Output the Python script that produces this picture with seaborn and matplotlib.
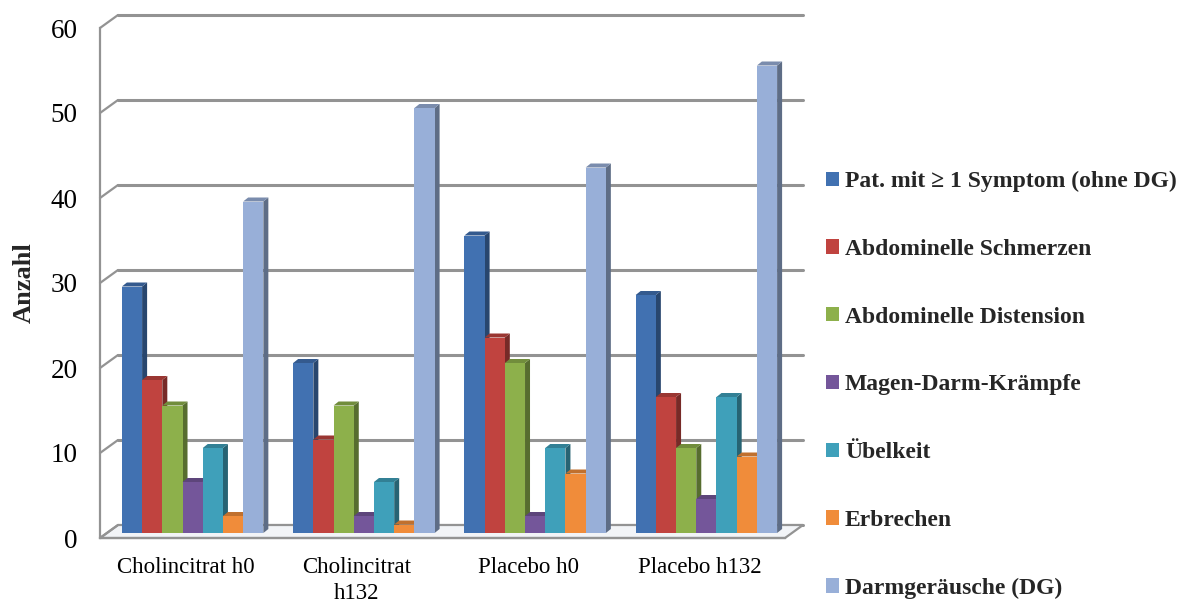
import matplotlib
matplotlib.use("Agg")
import matplotlib.pyplot as plt
from matplotlib.patches import Polygon
from matplotlib.colors import to_rgb
import seaborn as sns
import pandas as pd
import numpy as np

# ---- data -------------------------------------------------------------
groups = ["Cholincitrat h0", "Cholincitrat\nh132", "Placebo h0", "Placebo h132"]
symptoms = [
    "Pat. mit \u2265 1 Symptom (ohne DG)",
    "Abdominelle Schmerzen",
    "Abdominelle Distension",
    "Magen-Darm-Krämpfe",
    "Übelkeit",
    "Erbrechen",
    "Darmgeräusche (DG)",
]
pat_symptom = [29, 20, 35, 28]
schmerzen = [18, 11, 23, 16]
distension = [15, 15, 20, 10]
kraempfe = [6, 2, 2, 4]
uebelkeit = [10, 6, 10, 16]
erbrechen = [2, 1, 7, 9]
darmgeraeusche = [39, 50, 43, 55]
y_ticks = [0, 10, 20, 30, 40, 50, 60]

colors = ["#4171B1", "#C0433F", "#8DB04B", "#74569A", "#3FA0BA", "#F08C3A", "#98AFD8"]

series = [pat_symptom, schmerzen, distension, kraempfe, uebelkeit, erbrechen, darmgeraeusche]
df = pd.DataFrame(
    [(g, s, v) for s, vals in zip(symptoms, series) for g, v in zip(groups, vals)],
    columns=["Gruppe", "Symptom", "Anzahl"],
)

# ---- style ------------------------------------------------------------
sns.set_theme(style="white")
plt.rcParams["font.family"] = ["Liberation Serif", "DejaVu Serif"]
plt.rcParams["axes.unicode_minus"] = False

W, H = 1184, 603
fig = plt.figure(figsize=(W / 100, H / 100), dpi=100)
fig.patch.set_facecolor("white")


def rect(x0, y0, x1, y1):
    """Axes rectangle from pixel corners (y measured from the top)."""
    return [x0 / W, 1 - y1 / H, (x1 - x0) / W, (y1 - y0) / H]


GRAY = "#939393"
front = (100, 28, 785, 538)       # front plane: axis line, ticks, labels
wall = (18, 13)                   # depth offset of the back wall (px)
plane = (7, 5)                    # depth offset of the bar plane (px)

axb = fig.add_axes(rect(front[0] + wall[0], front[1] - wall[1],
                        front[2] + wall[0], front[3] - wall[1]), zorder=0)
axf = fig.add_axes(rect(*front), zorder=1)
axm = fig.add_axes(rect(front[0] + plane[0], front[1] - plane[1],
                        front[2] + plane[0], front[3] - plane[1]), zorder=2)

for ax in (axb, axf, axm):
    ax.set_xlim(-0.5, len(groups) - 0.5)
    ax.set_ylim(0, 60)
    ax.patch.set_alpha(0)

# ---- back wall gridlines -----------------------------------------------
axb.set_yticks(y_ticks)
axb.set_xticks([])
axb.grid(axis="y", color=GRAY, lw=2.2)
for ln in axb.get_ygridlines():
    ln.set_clip_on(False)
axb.tick_params(length=0, labelleft=False, labelbottom=False)
for sp in axb.spines.values():
    sp.set_visible(False)

# ---- front axis --------------------------------------------------------
for side in ("top", "right"):
    axf.spines[side].set_visible(False)
for side in ("left", "bottom"):
    axf.spines[side].set_color(GRAY)
    axf.spines[side].set_linewidth(1.6)
axf.set_yticks(y_ticks)
axf.set_yticklabels([str(t) for t in y_ticks])
axf.tick_params(axis="y", direction="out", length=6, width=1.4, color=GRAY,
                pad=10, labelsize=19.5, labelcolor="black")
axf.set_xticks(range(len(groups)))
axf.set_xticklabels(groups, linespacing=1.3)
axf.set_xticks(np.arange(-0.5, len(groups)), minor=True)
axf.tick_params(axis="x", which="major", length=0, pad=14, labelsize=16.5,
                labelcolor="black")
axf.tick_params(axis="x", which="minor", direction="out", length=7, width=1.4,
                color=GRAY)
axf.set_ylabel("Anzahl", fontsize=19, fontweight="bold", labelpad=11)

# depth offsets in front-axes data units
sx = axf.bbox.width / (len(groups))
sy = axf.bbox.height / 60
ddx, ddy = wall[0] / sx, wall[1] / sy
x_lo, x_hi = axf.get_xlim()

# floor slab
floor = Polygon([(x_lo, 0), (x_hi, 0), (x_hi + ddx, ddy), (x_lo + ddx, ddy)],
                closed=True, facecolor="#f2f4f7", edgecolor=GRAY, lw=1.6,
                clip_on=False, zorder=0.5)
axf.add_patch(floor)
# connectors from front ticks to the back wall
for t in y_ticks:
    axf.plot([x_lo, x_lo + ddx], [t, t + ddy], color=GRAY, lw=1.6,
             clip_on=False, solid_capstyle="round", zorder=1)

# ---- bars --------------------------------------------------------------
sns.barplot(data=df, x="Gruppe", y="Anzahl", hue="Symptom", order=groups,
            hue_order=symptoms, palette=colors, width=0.826, saturation=1,
            ax=axm, edgecolor="none", linewidth=0)
axm.set_xlim(-0.5, len(groups) - 0.5)
axm.set_ylim(0, 60)

# side and top faces for a 3-D look
msx = axm.bbox.width / len(groups)
msy = axm.bbox.height / 60
bdx, bdy = 5 / msx, 4 / msy


def shade(c, f):
    r, g, b = to_rgb(c)
    return (r * f, g * f, b * f)


for h, cont in enumerate(axm.containers):
    col = colors[h]
    for bar in cont:
        x0, w, hgt = bar.get_x(), bar.get_width(), bar.get_height()
        x1 = x0 + w
        bar.set_zorder(3 + 2 * h)
        side = Polygon([(x1, 0), (x1, hgt), (x1 + bdx, hgt + bdy), (x1 + bdx, bdy)],
                       closed=True, facecolor=shade(col, 0.62), edgecolor="none",
                       clip_on=False, zorder=2 + 2 * h)
        top = Polygon([(x0, hgt), (x1, hgt), (x1 + bdx, hgt + bdy), (x0 + bdx, hgt + bdy)],
                      closed=True, facecolor=shade(col, 0.8), edgecolor="none",
                      clip_on=False, zorder=2 + 2 * h)
        axm.add_patch(side)
        axm.add_patch(top)

for sp in axm.spines.values():
    sp.set_visible(False)
axm.set_xticks([])
axm.set_yticks([])
axm.set_xlabel("")
axm.set_ylabel("")

# ---- legend ------------------------------------------------------------
sns.move_legend(
    axm, "upper left", bbox_to_anchor=(826 / W, 1 - 171 / H),
    bbox_transform=fig.transFigure, title=None, frameon=False,
    prop={"weight": "bold", "size": 17}, handlelength=0.55, handleheight=0.55,
    handletextpad=0.25, labelspacing=1.98, borderpad=0, borderaxespad=0,
)

fig.savefig("out.png", dpi=100, facecolor="white")
